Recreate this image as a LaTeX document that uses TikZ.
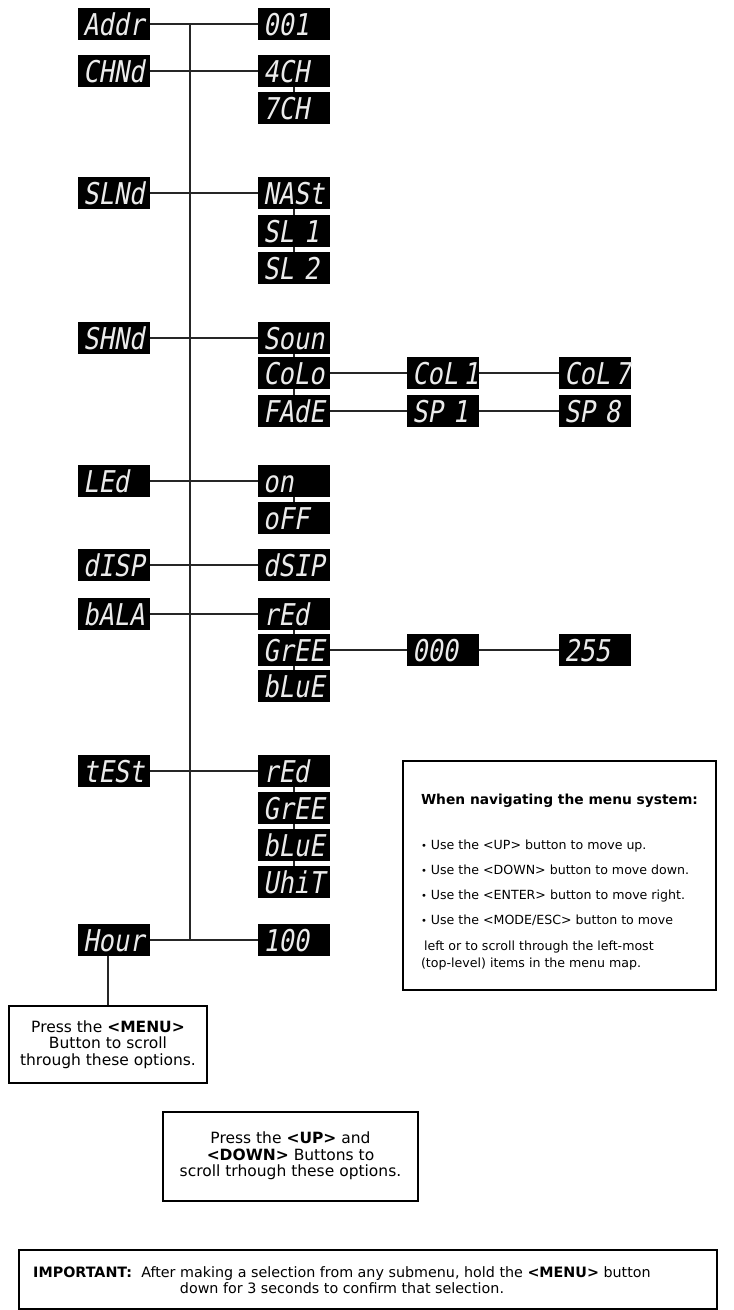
\documentclass[tikz,border=0pt]{standalone}
\usepackage{fontspec}
\setmainfont{DejaVu Sans}
\newfontfamily\lcdfont[FakeStretch=0.85,FakeSlant=0.18]{DejaVu Sans Mono}
\usetikzlibrary{positioning}

\begin{document}
\begin{tikzpicture} [x=1pt, y=-1pt, node distance=37pt, on grid,
    lcd/.style={fill=black, text=white!92!black, minimum width=72pt, minimum height=32pt,
      text width=62pt, align=left, inner xsep=5pt, inner ysep=5pt, text height=22pt, text depth=0pt,
      font=\lcdfont\fontsize{30}{30}\selectfont},
    link/.style={draw=black!85, line width=1.2pt},
    note/.style={draw, line width=2pt, align=center, font=\fontsize{15.5}{16.7}\selectfont}]
    \fill[white] (0,0) rectangle (734,1310);
    \useasboundingbox (0,0) rectangle (734,1310);

    % top level
    \node (addr) [lcd] at (114,24) {Addr};
    \node (chnd) [lcd] at (114,71) {CHNd};
    \node (slnd) [lcd] at (114,193) {SLNd};
    \node (shnd) [lcd] at (114,338) {SHNd};
    \node (led)  [lcd] at (114,481) {LEd};
    \node (disp) [lcd] at (114,565) {dISP};
    \node (bala) [lcd] at (114,614) {bALA};
    \node (test) [lcd] at (114,771) {tESt};
    \node (hour) [lcd] at (114,940) {Hour};

    % submenus
    \node (a001)  [lcd, right = 180pt of addr] {001};
    \node (ch4)   [lcd, right = 180pt of chnd] {4CH};
    \node (ch7)   [lcd, below = of ch4] {7CH};
    \node (mast)  [lcd, right = 180pt of slnd] {NASt};
    \node (sl1)   [lcd, below = 38pt of mast] {SL 1};
    \node (sl2)   [lcd, below = of sl1] {SL 2};
    \node (soun)  [lcd, right = 180pt of shnd] {Soun};
    \node (colo)  [lcd, below = 35pt of soun] {CoLo};
    \node (fade)  [lcd, below = 38pt of colo] {FAdE};
    \node (col1)  [lcd, right = 149pt of colo] {CoL\,1};
    \node (col7)  [lcd, right = 152pt of col1] {CoL\,7};
    \node (sp1)   [lcd, right = 149pt of fade] {SP 1};
    \node (sp8)   [lcd, right = 152pt of sp1] {SP 8};
    \node (ledon) [lcd, right = 180pt of led] {on};
    \node (ledoff)[lcd, below = of ledon] {oFF};
    \node (dsip)  [lcd, right = 180pt of disp] {dSIP};
    \node (bred)  [lcd, right = 180pt of bala] {rEd};
    \node (bgree) [lcd, below = 36pt of bred] {GrEE};
    \node (bblue) [lcd, below = 36pt of bgree] {bLuE};
    \node (g000)  [lcd, right = 149pt of bgree] {000};
    \node (g255)  [lcd, right = 152pt of g000] {255};
    \node (tred)  [lcd, right = 180pt of test] {rEd};
    \node (tgree) [lcd, below = of tred] {GrEE};
    \node (tblue) [lcd, below = of tgree] {bLuE};
    \node (twhit) [lcd, below = of tblue] {UhiT};
    \node (h100)  [lcd, right = 180pt of hour] {100};

    % trunk and branches
    \coordinate (trunk) at (190,0);
    \draw[link] (addr -| trunk) -- (hour -| trunk);
    \path[link] (addr) edge (a001);
    \path[link] (chnd) edge (ch4);
    \path[link] (slnd) edge (mast);
    \path[link] (shnd) edge (soun);
    \path[link] (led) edge (ledon);
    \path[link] (disp) edge (dsip);
    \path[link] (bala) edge (bred);
    \path[link] (test) edge (tred);
    \path[link] (hour) edge (h100);
    \path[link] (colo) edge (col1) (col1) edge (col7);
    \path[link] (fade) edge (sp1) (sp1) edge (sp8);
    \path[link] (bgree) edge (g000) (g000) edge (g255);

    % stacked options
    \path[link] (ch4) edge (ch7);
    \path[link] (mast) edge (sl1) (sl1) edge (sl2);
    \path[link] (soun) edge (colo) (colo) edge (fade);
    \path[link] (ledon) edge (ledoff);
    \path[link] (bred) edge (bgree) (bgree) edge (bblue);
    \path[link] (tred) edge (tgree) (tgree) edge (tblue) (tblue) edge (twhit);

    % notes
    \node (menunote) [note, minimum width=198pt, minimum height=77pt] at (108,1044.5)
        {Press the \textbf{<MENU>}\\Button to scroll\\through these options.};
    \draw[link] (menunote.north) -- (menunote.north |- hour.south);
    \node (updown) [note, minimum width=255pt, minimum height=89pt] at (290.5,1156)
        {Press the \textbf{<UP>} and\\\textbf{<DOWN>} Buttons to\\scroll trhough these options.};

    \node (navbox) [draw, line width=2.5pt, minimum width=313pt, minimum height=229pt, align=left,
        font=\fontsize{12.6}{17}\selectfont] at (559.5,875.5)
        {\rule{0pt}{24pt}{\fontsize{13.8}{17}\selectfont\textbf{When navigating the menu system:}}\\[28pt]
         {\fontsize{10}{10}\selectfont •}\ Use the <UP> button to move up.\\[8pt]
         {\fontsize{10}{10}\selectfont •}\ Use the <DOWN> button to move down.\\[8pt]
         {\fontsize{10}{10}\selectfont •}\ Use the <ENTER> button to move right.\\[8pt]
         {\fontsize{10}{10}\selectfont •}\ Use the <MODE/ESC> button to move\\[9pt]
         \hspace*{3pt}left or to scroll through the left-most\\
         (top-level) items in the menu map.};

    \node (impbox) [draw, line width=2pt, minimum width=698pt, minimum height=59pt] at (368,1279.5) {};
    \node (imptext) [align=center, font=\fontsize{14.3}{16}\selectfont] at (342,1280)
        {\textbf{IMPORTANT:}\ \ After making a selection from any submenu, hold the \textbf{<MENU>} button\\
         down for 3 seconds to confirm that selection.};
\end{tikzpicture}
\end{document}
